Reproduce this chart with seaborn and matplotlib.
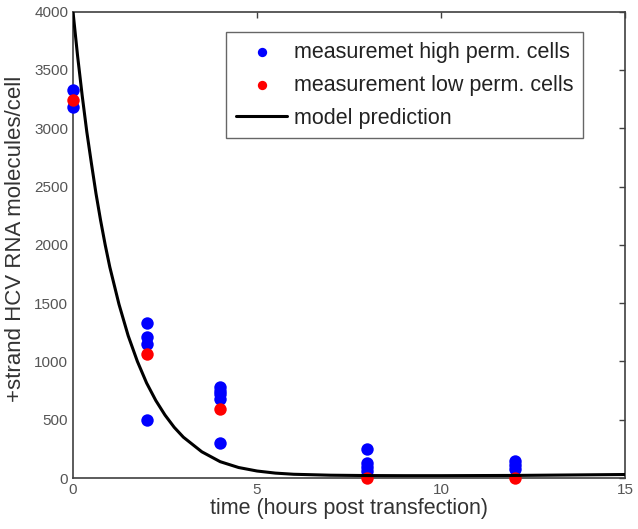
import numpy as np
import pandas as pd
import matplotlib
matplotlib.use("Agg")
import matplotlib.pyplot as plt
import seaborn as sns

t_high = [0, 0, 2, 2, 2, 2, 4, 4, 4, 4, 4, 8, 8, 8, 8, 12, 12, 12]
rna_high = [3325, 3180, 1326, 1211, 1146, 497, 777, 748, 717, 677, 297,
            249, 126, 92, 60, 148, 111, 75]
t_low = [0, 2, 4, 8, 12]
rna_low = [3240, 1060, 589, 0, 0]

# model curve, sampled from the figure
t_model = [0, 0.125, 0.25, 0.375, 0.5, 0.625, 0.75, 0.875, 1.0, 1.25, 1.5,
           1.75, 2.0, 2.25, 2.5, 2.75, 3.0, 3.5, 4.0, 4.5, 5.0, 5.5, 6.0,
           7.0, 8.0, 9.0, 10.0, 12.0, 15.0]
rna_model = [4000, 3620, 3280, 2970, 2700, 2440, 2210, 2000, 1810, 1490, 1220,
             1000, 815, 665, 540, 435, 350, 225, 140, 90, 60, 42, 32,
             24, 21, 20, 20, 22, 30]

x_ticks = [0, 5, 10, 15]
y_ticks = list(range(0, 4001, 500))

sns.set_style("white")
plt.rcParams['font.family'] = ['Liberation Sans', 'DejaVu Sans']

high = pd.DataFrame({'t': t_high, 'rna': rna_high})
low = pd.DataFrame({'t': t_low, 'rna': rna_low})
model = pd.DataFrame({'t': t_model, 'rna': rna_model})

fig = plt.figure(figsize=(6.38, 5.29), dpi=100)
ax = fig.add_axes([0.1144, 0.0964, 0.8652, 0.8816])

sns.scatterplot(data=high, x='t', y='rna', ax=ax, color=(0, 0, 1), s=80,
                linewidth=0, label='measuremet high perm. cells', zorder=3,
                clip_on=False)
sns.scatterplot(data=low, x='t', y='rna', ax=ax, color=(1, 0, 0), s=80,
                linewidth=0, label='measurement low perm. cells', zorder=3,
                clip_on=False)
sns.lineplot(data=model, x='t', y='rna', ax=ax, color='black', lw=2.2,
             label='model prediction', zorder=4)

ax.set_xlim(0, 15)
ax.set_ylim(0, 4000)
ax.set_xticks(x_ticks)
ax.set_yticks(y_ticks)
ax.set_xlabel('time (hours post transfection)', fontsize=15.5, color='#333333', labelpad=1)
ax.set_ylabel('+strand HCV RNA molecules/cell', fontsize=16, color='#333333')
ax.yaxis.set_label_coords(-0.086, 0.513)
ax.tick_params(direction='in', length=4, width=1, colors='#404040',
               labelcolor='#555555', labelsize=11, top=True, right=True)
for sp in ax.spines.values():
    sp.set_color('#404040')
    sp.set_linewidth(1.2)

leg = ax.legend(loc='upper right', bbox_to_anchor=(0.924, 0.956), fontsize=15.5,
                frameon=True, fancybox=False, edgecolor='#404040', markerscale=0.75,
                handlelength=2.4, handletextpad=0.3, borderpad=0.45,
                labelspacing=0.55, borderaxespad=0)
leg.get_frame().set_linewidth(1.0)
for txt in leg.get_texts():
    txt.set_color('#222222')

fig.savefig('out.png', dpi=100)
